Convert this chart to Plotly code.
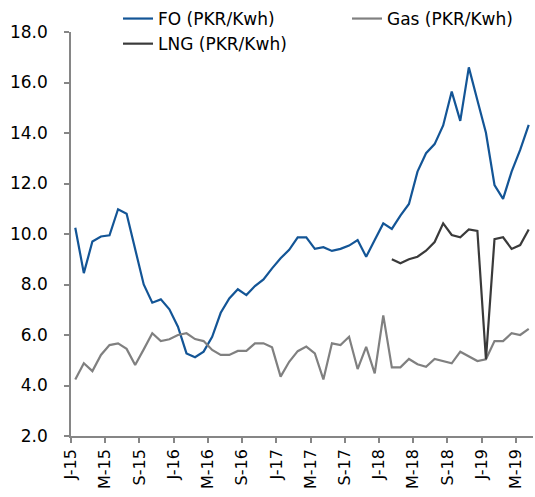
import plotly.graph_objects as go

# monthly series, Jan-2015 .. Jun-2019
fo = [10.25, 8.45, 9.7, 9.9, 9.95, 10.98, 10.8, 9.35, 8.0, 7.28, 7.41, 7.02,
      6.33, 5.27, 5.12, 5.34, 5.93, 6.88, 7.45, 7.81, 7.58, 7.94, 8.2, 8.64,
      9.04, 9.37, 9.87, 9.87, 9.41, 9.48, 9.33, 9.41, 9.54, 9.76, 9.1, 9.76,
      10.42, 10.2, 10.73, 11.19, 12.47, 13.2, 13.56, 14.3, 15.64, 14.48, 16.6, 15.3,
      14.01, 11.94, 11.39, 12.47, 13.33, 14.32]
gas = [4.24, 4.88, 4.57, 5.21, 5.6, 5.67, 5.45, 4.81, 5.43, 6.07, 5.76, 5.83,
       6.0, 6.07, 5.84, 5.76, 5.41, 5.21, 5.21, 5.37, 5.37, 5.67, 5.67, 5.51,
       4.35, 4.94, 5.36, 5.54, 5.27, 4.24, 5.67, 5.6, 5.93, 4.65, 5.53, 4.48,
       6.78, 4.72, 4.72, 5.05, 4.84, 4.74, 5.05, 4.97, 4.88, 5.34, 5.17, 4.97,
       5.04, 5.76, 5.76, 6.07, 6.0, 6.24]
lng = [None] * 37 + [9.0, 8.84, 9.0, 9.1, 9.34, 9.68, 10.42, 9.96, 9.87, 10.18,
                     10.12, 5.04, 9.8, 9.87, 9.41, 9.56, 10.18]

tick_labels = ["J-15", "M-15", "S-15", "J-16", "M-16", "S-16", "J-17", "M-17",
               "S-17", "J-18", "M-18", "S-18", "J-19", "M-19"]

months = list(range(len(fo)))
font = "'DejaVu Sans', sans-serif"
W, H = 535, 497

fig = go.Figure()
fig.add_trace(go.Scatter(x=months, y=fo, mode="lines", name="FO (PKR/Kwh)",
                         legend="legend", legendgroup="fo",
                         line={"color": "#135596", "width": 2.2}))
fig.add_trace(go.Scatter(x=months, y=gas, mode="lines", name="Gas (PKR/Kwh)",
                         legend="legend2",
                         line={"color": "#808080", "width": 2.2}))
fig.add_trace(go.Scatter(x=months, y=lng, mode="lines", name="LNG (PKR/Kwh)",
                         legend="legend", legendgroup="lng",
                         line={"color": "#3a3a3a", "width": 2.2}))

axis_common = dict(
    ticks="outside", ticklen=5, tickcolor="#868686", tickwidth=1.5,
    showline=True, linecolor="#868686", linewidth=1.5,
    showgrid=False, zeroline=False,
)
fig.update_xaxes(
    range=[-0.5, len(fo) - 0.5],
    tickmode="array",
    tickvals=[i * 4 - 0.5 for i in range(len(tick_labels))],
    ticktext=tick_labels,
    tickangle=-90,
    tickfont={"size": 16, "color": "#000"},
    **axis_common,
)
fig.update_yaxes(
    range=[2, 18], dtick=2, tickformat=".1f",
    tickfont={"size": 17, "color": "#000"},
    ticklabelstandoff=13,
    **axis_common,
)

legend_style = dict(
    xref="container", yref="container", xanchor="left", yanchor="top",
    font={"size": 17, "color": "#000"}, bgcolor="rgba(0,0,0,0)",
    tracegroupgap=0,
)
fig.update_layout(
    width=W, height=H,
    margin={"l": 71, "r": 2, "t": 32, "b": 61, "autoexpand": False},
    paper_bgcolor="white", plot_bgcolor="white",
    font={"family": font, "color": "#000"},
    showlegend=True,
    legend=dict(x=118 / W, y=1 - 1 / H, **legend_style),
    legend2=dict(x=347 / W, y=1 - 1 / H, **legend_style),
)

fig.write_html("out.html", config={"displayModeBar": False},
               post_script="document.body.style.margin='0';")
